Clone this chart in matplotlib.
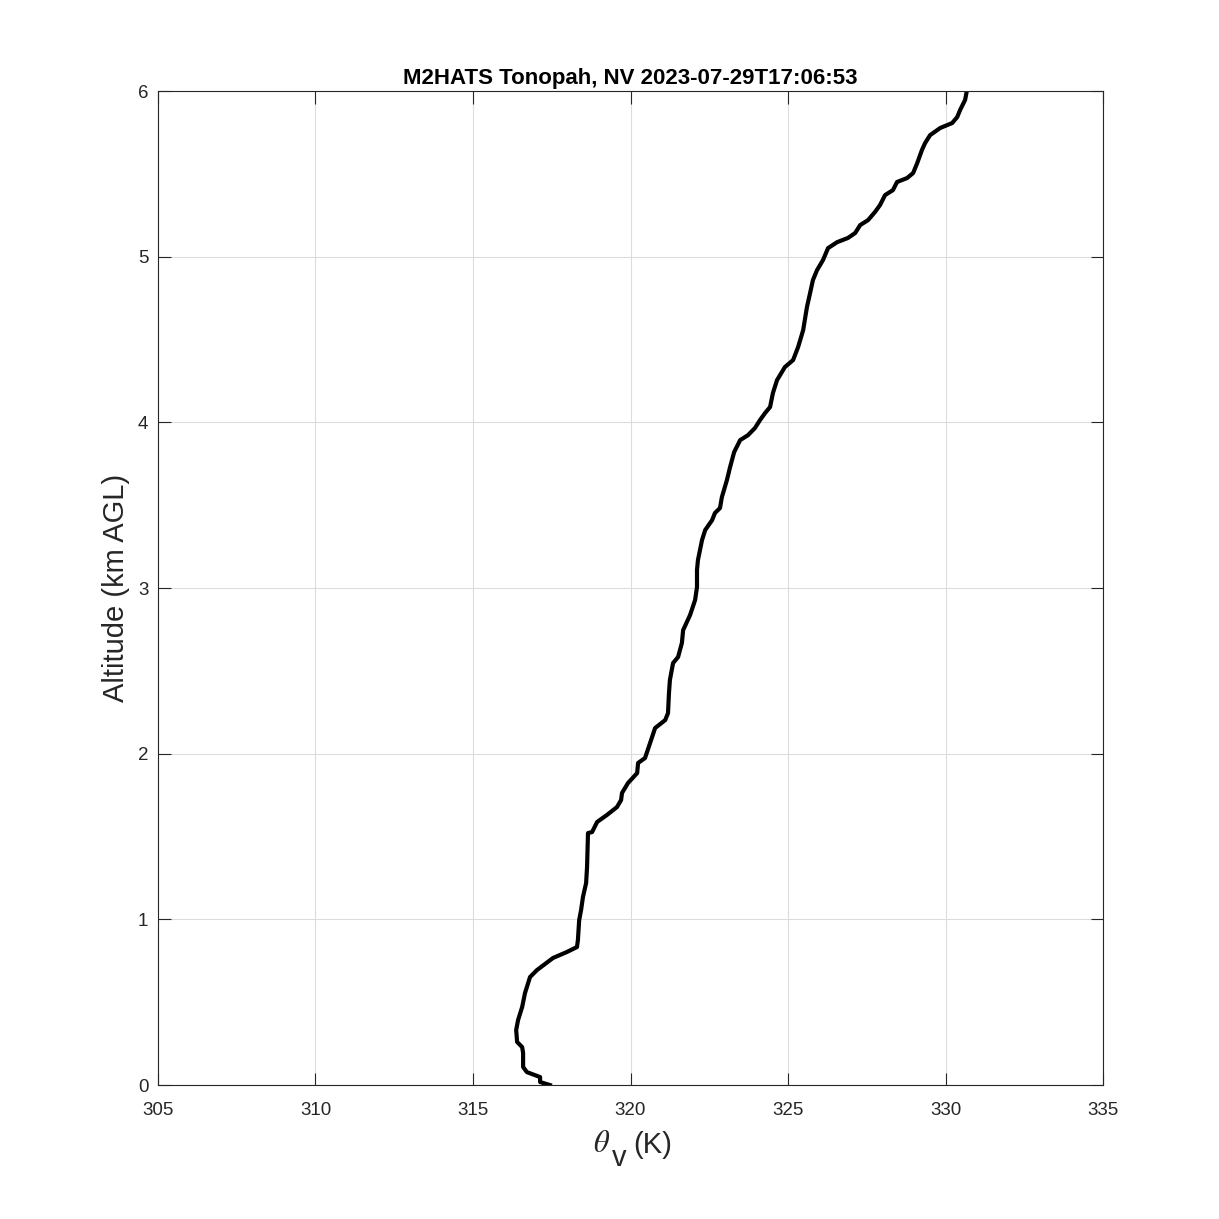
#!/usr/bin/env python3

import numpy as np
import matplotlib
matplotlib.use('Agg')
import matplotlib.pyplot as plt

# virtual potential temperature (K) vs altitude (km AGL)
theta_v = [317.44, 317.13, 317.13, 316.71, 316.59, 316.59, 316.56, 316.40, 316.37,
           316.43, 316.56, 316.65, 316.81, 317.03, 317.54, 317.98, 318.30, 318.33,
           318.37, 318.43, 318.49, 318.59, 318.62, 318.65, 318.78, 318.94, 319.25,
           319.57, 319.70, 319.73, 319.92, 320.21, 320.24, 320.46, 320.62, 320.78,
           321.10, 321.19, 321.22, 321.25, 321.35, 321.51, 321.63, 321.67, 321.89,
           322.05, 322.11, 322.11, 322.14, 322.27, 322.37, 322.59, 322.68, 322.84,
           322.90, 323.06, 323.16, 323.29, 323.48, 323.73, 323.95, 324.11, 324.27,
           324.43, 324.52, 324.65, 324.90, 325.16, 325.32, 325.48, 325.60, 325.70,
           325.79, 325.92, 326.11, 326.27, 326.56, 326.90, 327.13, 327.29, 327.54,
           327.76, 327.92, 328.08, 328.33, 328.46, 328.78, 328.97, 329.10, 329.25,
           329.35, 329.51, 329.83, 330.21, 330.37, 330.46, 330.62, 330.68]
alt_km = [0.000, 0.018, 0.048, 0.078, 0.109, 0.193, 0.229, 0.260, 0.332,
          0.392, 0.471, 0.555, 0.652, 0.694, 0.767, 0.803, 0.833, 0.875,
          0.996, 1.056, 1.135, 1.219, 1.316, 1.521, 1.527, 1.588, 1.630,
          1.678, 1.720, 1.763, 1.823, 1.883, 1.944, 1.974, 2.064, 2.155,
          2.203, 2.245, 2.366, 2.445, 2.547, 2.584, 2.668, 2.746, 2.837,
          2.928, 3.006, 3.109, 3.169, 3.290, 3.350, 3.410, 3.453, 3.483,
          3.549, 3.652, 3.730, 3.821, 3.893, 3.923, 3.966, 4.014, 4.056,
          4.093, 4.177, 4.255, 4.334, 4.376, 4.455, 4.557, 4.696, 4.781,
          4.859, 4.919, 4.980, 5.052, 5.088, 5.113, 5.143, 5.191, 5.221,
          5.270, 5.312, 5.372, 5.402, 5.451, 5.475, 5.505, 5.565, 5.644,
          5.686, 5.734, 5.777, 5.807, 5.843, 5.885, 5.946, 6.006]

x_ticks = [305, 310, 315, 320, 325, 330, 335]
y_ticks = [0, 1, 2, 3, 4, 5, 6]
title = 'M2HATS Tonopah, NV 2023-07-29T17:06:53'

plt.rcParams['font.family'] = ['Liberation Sans', 'DejaVu Sans']

fig = plt.figure(figsize=(12.19, 12.19), dpi=100)
ax = fig.add_axes([0.1296, 0.1099, 0.7753, 0.8154])

ax.plot(theta_v, alt_km, color='black', linewidth=3.0, solid_joinstyle='round')

ax.set_xlim(305, 335)
ax.set_ylim(0, 6)
ax.set_xticks(x_ticks)
ax.set_yticks(y_ticks)
ax.tick_params(direction='in', length=9, width=0.8, top=True, right=True,
               labelsize=13.5, colors='#262626')
ax.tick_params(axis='x', pad=12)
ax.tick_params(axis='y', pad=7)
ax.grid(True, color='#dcdcdc', linewidth=0.8)
ax.set_axisbelow(True)
for s in ax.spines.values():
    s.set_linewidth(0.8)
    s.set_color('#262626')

ax.set_title(title, fontsize=16, fontweight='bold', pad=5)
ax.set_ylabel('Altitude (km AGL)', fontsize=21, color='#262626')
ax.yaxis.set_label_coords(-0.03, 0.5)

# x label: theta with a low-hanging subscript v, like the original
lab = '#262626'
t_theta = ax.text(0.4603, -0.0675, r'$\theta$', transform=ax.transAxes, fontsize=22,
                  color=lab, ha='left', va='baseline',
                  math_fontfamily='stix')
t_v = ax.annotate('v', xy=(1, 0), xycoords=t_theta, xytext=(1.5, -9),
                  textcoords='offset points', fontsize=21, color=lab,
                  ha='left', va='bottom')
ax.annotate('(K)', xy=(1, 0), xycoords=(t_v, t_theta), xytext=(5, 0),
            textcoords='offset points', fontsize=21, color=lab,
            ha='left', va='bottom')

fig.savefig('out.png', dpi=100)
